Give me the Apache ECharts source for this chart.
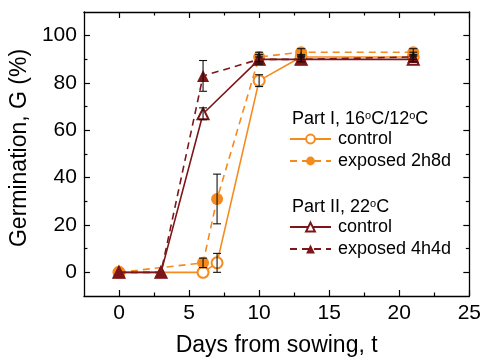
<!DOCTYPE html>
<html>
<head>
<meta charset="utf-8">
<script src="https://cdn.jsdelivr.net/npm/echarts@6/dist/echarts.min.js"></script>
<style>
  html, body { margin: 0; padding: 0; background: #fff; }
  #chart { width: 484px; height: 362px; }
</style>
</head>
<body>
<div id="chart"></div>
<script>
// Part I, 16/12 C
var daysI = [0, 6, 7, 10, 13, 21]
var ctrlI = [0, 0, 4, 81, 91, 91]
var ctrlIErr = [0, 0, 4, 2.5, 1, 1]
var expI = [0, 4, 31, 91, 93, 93]
var expIErr = [0, 2, 10.5, 2, 1.5, 1.5]

// Part II, 22 C
var daysII = [0, 3, 6, 10, 13, 21]
var ctrlII = [0, 0, 67, 90, 90, 90]
var ctrlIIErr = [0, 0, 2.5, 1, 1, 1]
var expII = [0, 0, 83, 90, 90, 91]
var expIIErr = [0, 0, 6.5, 2, 1, 2]

// ticks
var xLabels = [0, 5, 10, 15, 20, 25]
var xMinor = [2.5, 7.5, 12.5, 17.5, 22.5]
var yLabels = [0, 20, 40, 60, 80, 100]
var yMinor = [10, 30, 50, 70, 90]

var orange = '#f58a1f'
var darkRed = '#7d1618'
var font = 'Liberation Sans, Arial, Helvetica, sans-serif'

var legendNames = {
  ctrlI: 'control',
  expI: 'exposed 2h8d',
  ctrlII: 'control',
  expII: 'exposed 4h4d'
}

function pairs(days, vals) {
  return days.map(function (d, i) { return [d, vals[i]] })
}

function errData(days, vals, errs) {
  var out = []
  days.forEach(function (d, i) {
    if (errs[i] > 0) out.push([d, vals[i] - errs[i], vals[i] + errs[i]])
  })
  return out
}

var chart = echarts.init(document.getElementById('chart'), null, { renderer: 'canvas' })

// 坐标轴 (主刻度/次刻度，上下左右都画)
function xAxisDef(pos, major, withLabel) {
  return {
    type: 'value', position: pos, min: -2.5, max: 25,
    axisLine: { show: major, onZero: false, lineStyle: { color: '#000', width: 1.3 } },
    axisTick: { show: true, inside: true, length: major ? 6 : 3.5, customValues: major ? xLabels : xMinor, lineStyle: { color: '#000', width: 1.2 } },
    axisLabel: { show: withLabel, customValues: xLabels, color: '#000', fontSize: 21, fontFamily: font, margin: 7 },
    splitLine: { show: false },
    name: withLabel ? 'Days from sowing, t' : '',
    nameLocation: 'middle', nameGap: 38,
    nameTextStyle: { color: '#000', fontSize: 23, fontFamily: font }
  }
}

function yAxisDef(pos, major, withLabel) {
  return {
    type: 'value', position: pos, min: -10, max: 110,
    axisLine: { show: major, onZero: false, lineStyle: { color: '#000', width: 1.3 } },
    axisTick: { show: true, inside: true, length: major ? 6 : 3.5, customValues: major ? yLabels : yMinor, lineStyle: { color: '#000', width: 1.2 } },
    axisLabel: { show: withLabel, customValues: yLabels, color: '#000', fontSize: 21, fontFamily: font, margin: 7 },
    splitLine: { show: false },
    name: withLabel ? 'Germination, G (%)' : '',
    nameLocation: 'middle', nameGap: 48,
    nameTextStyle: { color: '#000', fontSize: 23, fontFamily: font, padding: [0, 0, 0, 12] }
  }
}

function errSeries(data) {
  return {
    type: 'custom',
    z: 10,
    encode: { x: 0, y: [1, 2] },
    data: data,
    renderItem: function (params, api) {
      var x = api.value(0)
      var top = api.coord([x, api.value(2)])
      var bot = api.coord([x, api.value(1)])
      var w = 4
      var st = { stroke: '#111', lineWidth: 1.1 }
      return {
        type: 'group',
        children: [
          { type: 'line', shape: { x1: top[0], y1: top[1], x2: bot[0], y2: bot[1] }, style: st },
          { type: 'line', shape: { x1: top[0] - w, y1: top[1], x2: top[0] + w, y2: top[1] }, style: st },
          { type: 'line', shape: { x1: bot[0] - w, y1: bot[1], x2: bot[0] + w, y2: bot[1] }, style: st }
        ]
      }
    }
  }
}

function legendDef(name, top) {
  return {
    data: [name], left: 289, top: top, padding: 0,
    itemWidth: 41, itemHeight: 11, selectedMode: false,
    formatter: function (n) { return legendNames[n] },
    textStyle: { color: '#000', fontSize: 18, fontFamily: font, lineHeight: 18, padding: [0, 0, 0, 2] }
  }
}

function titleText(y, parts) {
  return {
    type: 'text', left: 292, top: y,
    style: {
      text: parts,
      fill: '#000',
      font: '18px ' + font,
      rich: {
        n: { fontSize: 18, fontFamily: font, fill: '#000', lineHeight: 18 },
        s: { fontSize: 11, fontFamily: font, fill: '#000', lineHeight: 11, verticalAlign: 'top' }
      }
    }
  }
}

var option = {
  animation: false,
  grid: { left: 81, right: 14, top: 12, bottom: 63 },
  xAxis: [
    xAxisDef('bottom', true, true),
    xAxisDef('bottom', false, false),
    xAxisDef('top', true, false),
    xAxisDef('top', false, false)
  ],
  yAxis: [
    yAxisDef('left', true, true),
    yAxisDef('left', false, false),
    yAxisDef('right', true, false),
    yAxisDef('right', false, false)
  ],
  legend: [
    legendDef('ctrlI', 130),
    legendDef('expI', 152),
    legendDef('ctrlII', 218),
    legendDef('expII', 240)
  ],
  graphic: [
    titleText(110, '{n|Part I, 16}{s|o}{n|C/12}{s|o}{n|C}'),
    titleText(198, '{n|Part II, 22}{s|o}{n|C}')
  ],
  series: [
    {
      name: 'ctrlI', type: 'line', data: pairs(daysI, ctrlI),
      symbol: 'emptyCircle', symbolSize: 11, z: 2,
      itemStyle: { color: orange, borderWidth: 2 },
      lineStyle: { color: orange, width: 1.6, type: 'solid' }
    },
    {
      name: 'expI', type: 'line', data: pairs(daysI, expI),
      symbol: 'circle', symbolSize: 12, z: 2,
      itemStyle: { color: orange },
      lineStyle: { color: orange, width: 1.6, type: [7, 5] }
    },
    {
      name: 'ctrlII', type: 'line', data: pairs(daysII, ctrlII),
      symbol: 'emptyTriangle', symbolSize: 11, z: 3,
      itemStyle: { color: darkRed, borderWidth: 2 },
      lineStyle: { color: darkRed, width: 1.6, type: 'solid' }
    },
    {
      name: 'expII', type: 'line', data: pairs(daysII, expII),
      symbol: 'triangle', symbolSize: 12, z: 3,
      itemStyle: { color: darkRed },
      lineStyle: { color: darkRed, width: 1.6, type: [7, 5] }
    },
    errSeries(errData(daysI, ctrlI, ctrlIErr)),
    errSeries(errData(daysI, expI, expIErr)),
    errSeries(errData(daysII, ctrlII, ctrlIIErr)),
    errSeries(errData(daysII, expII, expIIErr))
  ]
}

chart.setOption(option)
</script>
</body>
</html>
